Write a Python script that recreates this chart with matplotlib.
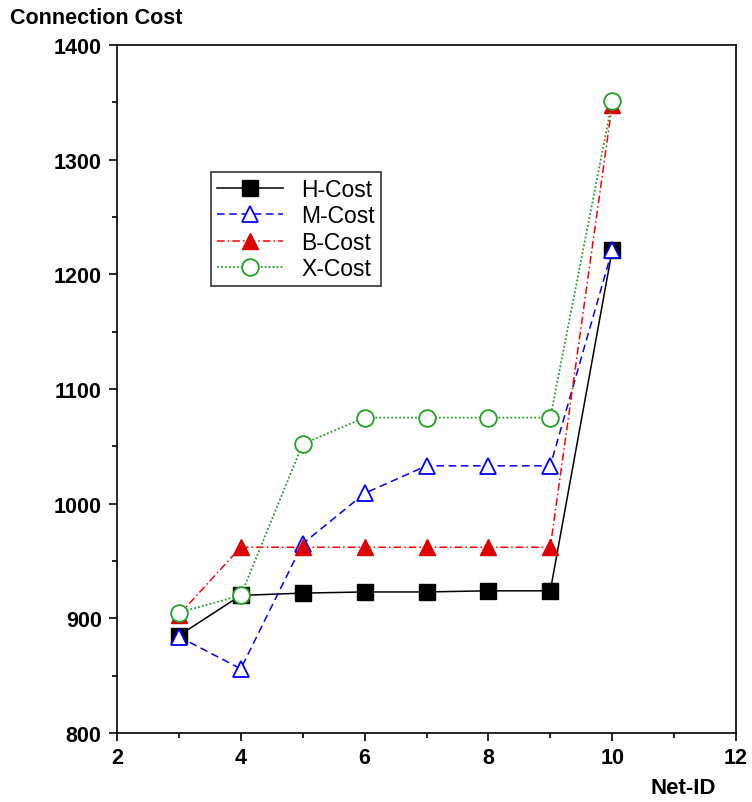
import matplotlib
matplotlib.use("Agg")
import matplotlib.pyplot as plt
from matplotlib.ticker import MultipleLocator

plt.rcParams['font.family'] = ['Liberation Sans', 'DejaVu Sans']

net_ids = [3, 4, 5, 6, 7, 8, 9, 10]
h_cost = [885, 920, 922, 923, 923, 924, 924, 1221]
m_cost = [884, 856, 965, 1009, 1033, 1033, 1033, 1221]
b_cost = [903, 962, 962, 962, 962, 962, 962, 1348]
x_cost = [905, 920, 1052, 1075, 1075, 1075, 1075, 1351]

fig = plt.figure(figsize=(7.52, 8.03), dpi=100)
ax = fig.add_axes([117/752, 69/803, (736-117)/752, (734-46)/803])

ax.plot(net_ids, h_cost, color='black', linestyle='-', linewidth=1.1,
        marker='s', markersize=12, markerfacecolor='black', markeredgecolor='black', label='H-Cost')
ax.plot(net_ids, m_cost, color='blue', linestyle=(0, (5, 3)), linewidth=1.1,
        marker='^', markersize=12, markerfacecolor='white', markeredgecolor='blue', markeredgewidth=1.3, label='M-Cost')
ax.plot(net_ids, b_cost, color='red', linestyle=(0, (5, 2, 1, 2)), linewidth=1.1,
        marker='^', markersize=12, markerfacecolor='#dd0000', markeredgecolor='#dd0000', label='B-Cost')
ax.plot(net_ids, x_cost, color='#22a022', linestyle=(0, (1, 1.2)), linewidth=1.3,
        marker='o', markersize=12, markerfacecolor='white', markeredgecolor='#22a022', markeredgewidth=1.3, label='X-Cost')

ax.set_xlim(2, 12)
ax.set_ylim(800, 1400)
ax.xaxis.set_major_locator(MultipleLocator(2))
ax.xaxis.set_minor_locator(MultipleLocator(1))
ax.yaxis.set_major_locator(MultipleLocator(100))
ax.yaxis.set_minor_locator(MultipleLocator(50))
ax.tick_params(which='major', direction='out', length=6, width=1.2, labelsize=15.5)
ax.tick_params(axis='x', which='major', pad=4)
ax.tick_params(axis='y', which='major', pad=5)
ax.tick_params(which='minor', direction='out', length=3.5, width=1.2)
for lab in ax.get_xticklabels() + ax.get_yticklabels():
    lab.set_fontweight('bold')
for sp in ax.spines.values():
    sp.set_linewidth(1.2)

fig.text(10/752, 1 - 18/803, 'Connection Cost', fontsize=15.5, fontweight='bold', ha='left', va='center')
fig.text(683/752, 1 - 789/803, 'Net-ID', fontsize=16, fontweight='bold', ha='center', va='center')

leg = ax.legend(loc='upper left', bbox_to_anchor=((211-117)/619, (734-173)/688),
                fontsize=16.5, frameon=True, fancybox=False, edgecolor='black',
                handlelength=2.9, handletextpad=0.8, borderpad=0.25, labelspacing=0.15,
                borderaxespad=0)
leg.get_frame().set_linewidth(1.2)

fig.savefig('out.png', dpi=100)
